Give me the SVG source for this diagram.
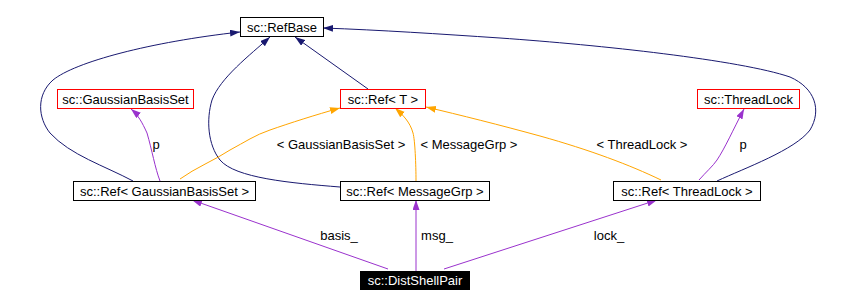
<svg xmlns="http://www.w3.org/2000/svg" width="854" height="308" viewBox="0 0 854 308">
<style>
text{font-family:"Liberation Sans",Arial,sans-serif;font-size:13px;fill:#000;text-anchor:middle}
.box{fill:#fff;stroke:#000;stroke-width:1}
.red{fill:#fff;stroke:#ff0000;stroke-width:1}
.inh{fill:none;stroke:#191970;stroke-width:1}
.use{fill:none;stroke:#9a32cd;stroke-width:1}
.tpl{fill:none;stroke:#ffa500;stroke-width:1}
</style>
<defs>
<marker id="aN" markerUnits="userSpaceOnUse" markerWidth="11" markerHeight="8" refX="10" refY="3.5" orient="auto"><path d="M0,0 L10,3.5 L0,7 z" fill="#191970"/></marker>
<marker id="aP" markerUnits="userSpaceOnUse" markerWidth="11" markerHeight="8" refX="10" refY="3.5" orient="auto"><path d="M0,0 L10,3.5 L0,7 z" fill="#9a32cd"/></marker>
<marker id="aO" markerUnits="userSpaceOnUse" markerWidth="11" markerHeight="8" refX="10" refY="3.5" orient="auto"><path d="M0,0 L10,3.5 L0,7 z" fill="#ffa500"/></marker>
</defs>
<rect width="854" height="308" fill="#fff"/>
<g id="connectors">
<path class="inh" marker-end="url(#aN)" d="M133,181 C105,166 70,155 50,133 C38,118 36,95 53,80 C75,62 150,42 240,32"/>
<path class="inh" marker-end="url(#aN)" d="M340,187 C290,183 235,178 220,160 C208,145 206,120 212,100 C220,78 250,55 270,37"/>
<path class="inh" marker-end="url(#aN)" d="M368,89 L295,37"/>
<path class="inh" marker-end="url(#aN)" d="M717,181 C745,168 795,150 810,130 C822,110 815,88 790,77 C740,60 600,45 500,38 C440,34 380,30 323,28"/>
<path class="use" marker-end="url(#aP)" d="M160,181 C155,168 152,150 147,133 C142,122 138,115 131,109"/>
<path class="tpl" marker-end="url(#aO)" d="M180,179 C195,168 215,160 230,150 C245,142 255,135 270,130 C290,123 315,115 340,108"/>
<path class="tpl" marker-end="url(#aO)" d="M416,181 C416,165 415,140 413,133 C410,122 403,115 395,108"/>
<path class="tpl" marker-end="url(#aO)" d="M661,180 C630,165 590,150 540,136 C500,125 460,115 426,107"/>
<path class="use" marker-end="url(#aP)" d="M699,180 C706,172 713,166 717,160 C725,148 733,130 744,109"/>
<path class="use" marker-end="url(#aP)" d="M388,269 L192,200"/>
<path class="use" marker-end="url(#aP)" d="M416,271 L416,200"/>
<path class="use" marker-end="url(#aP)" d="M444,269 L657,200"/>
<text x="156" y="149">p</text>
<text x="341" y="149">&lt; GaussianBasisSet &gt;</text>
<text x="469" y="149">&lt; MessageGrp &gt;</text>
<text x="642" y="149">&lt; ThreadLock &gt;</text>
<text x="743" y="149">p</text>
<text x="339" y="240">basis_</text>
<text x="437" y="240">msg_</text>
<text x="609" y="240">lock_</text>
</g>
<g id="RefBase"><rect class="box" x="240.5" y="17.5" width="83" height="19"/><text x="282" y="32">sc::RefBase</text></g>
<g id="GaussianBasisSet"><rect class="red" x="57.5" y="89.5" width="136" height="19"/><text x="125.5" y="104">sc::GaussianBasisSet</text></g>
<g id="RefT"><rect class="red" x="340.5" y="89.5" width="85" height="19"/><text x="383" y="104">sc::Ref&lt; T &gt;</text></g>
<g id="ThreadLock"><rect class="red" x="697.5" y="89.5" width="102" height="19"/><text x="748.5" y="104">sc::ThreadLock</text></g>
<g id="RefGaussianBasisSet"><rect class="box" x="73.5" y="181.5" width="182" height="19"/><text x="164.5" y="196">sc::Ref&lt; GaussianBasisSet &gt;</text></g>
<g id="RefMessageGrp"><rect class="box" x="340.5" y="181.5" width="149" height="19"/><text x="415" y="196">sc::Ref&lt; MessageGrp &gt;</text></g>
<g id="RefThreadLock"><rect class="box" x="613.5" y="181.5" width="147" height="19"/><text x="687" y="196">sc::Ref&lt; ThreadLock &gt;</text></g>
<g id="DistShellPair"><rect x="360" y="271" width="110" height="19" fill="#000"/><text x="415" y="285" style="fill:#fff">sc::DistShellPair</text></g>
</svg>
